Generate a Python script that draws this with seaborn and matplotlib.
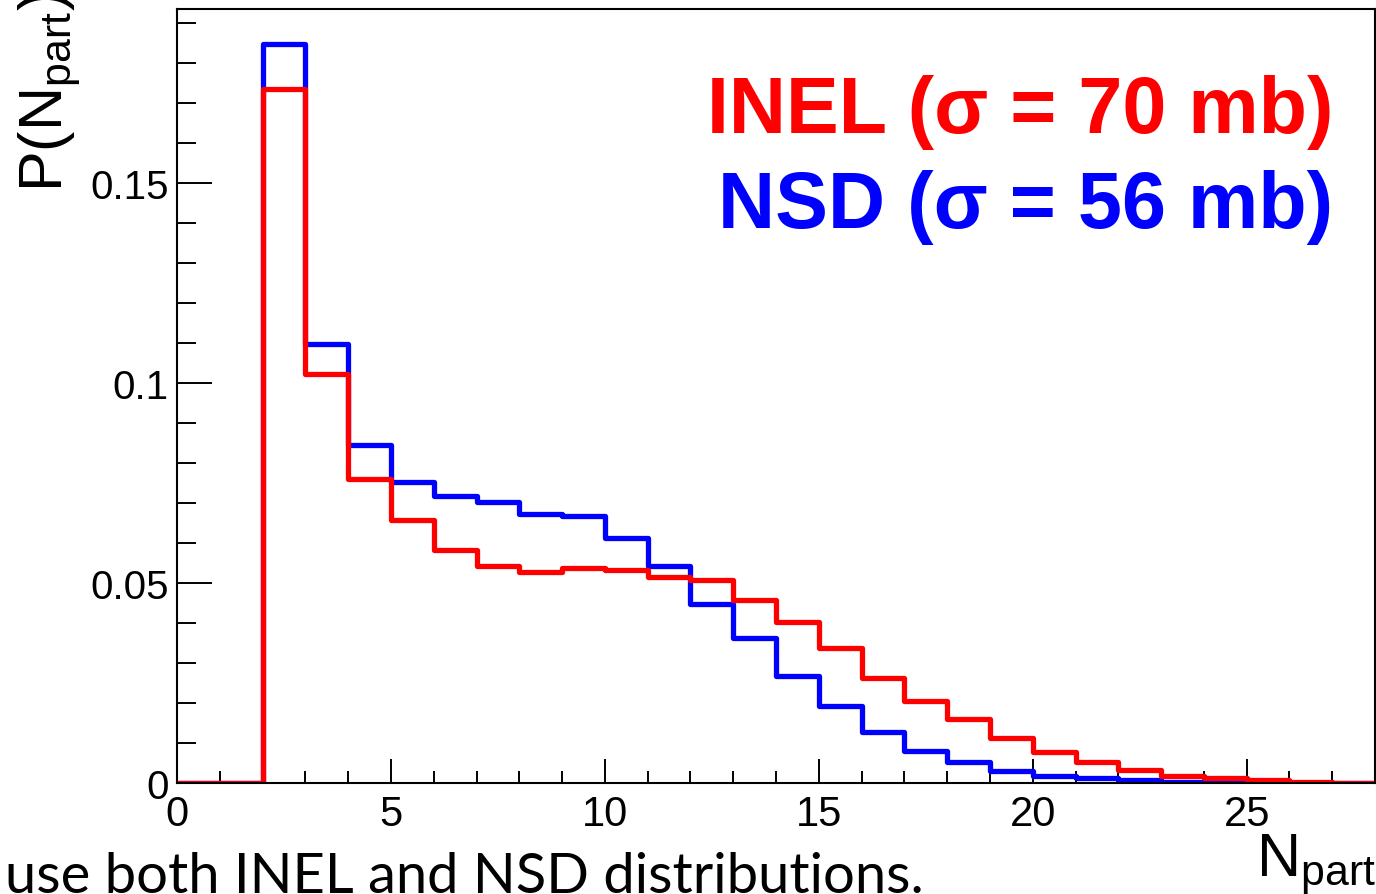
import matplotlib
matplotlib.use("Agg")
import matplotlib.pyplot as plt
import seaborn as sns
import pandas as pd
from matplotlib.ticker import MultipleLocator, FuncFormatter

# ---- data ----
bin_edges = list(range(0, 29))
npart = [i + 0.5 for i in range(28)]
p_inel = [0, 0, 0.1734, 0.1023, 0.0760, 0.0657, 0.0583, 0.0543, 0.0528, 0.0538,
          0.0533, 0.0515, 0.0508, 0.0458, 0.0402, 0.0337, 0.0262, 0.0206, 0.0160,
          0.0112, 0.0077, 0.0052, 0.0033, 0.0018, 0.0013, 0.0007, 0.0002, 0.0001]
p_nsd = [0, 0, 0.1848, 0.1098, 0.0845, 0.0752, 0.0717, 0.0703, 0.0673, 0.0668,
         0.0612, 0.0542, 0.0448, 0.0362, 0.0267, 0.0192, 0.0127, 0.0080, 0.0052,
         0.0030, 0.0017, 0.0012, 0.0007, 0.0002, 0.0001, 0.0001, 0, 0]
x_ticks = [0, 5, 10, 15, 20, 25]
y_ticks = [0, 0.05, 0.1, 0.15]
label_inel = "INEL (σ = 70 mb)"
label_nsd = "NSD (σ = 56 mb)"
caption = "use both INEL and NSD distributions."

df = pd.DataFrame({"npart": npart, "INEL": p_inel, "NSD": p_nsd})

sns.set_style("ticks")
plt.rcParams["font.family"] = ["Liberation Sans", "DejaVu Sans"]
plt.rcParams["mathtext.fontset"] = "custom"
plt.rcParams["mathtext.rm"] = "Liberation Sans"
plt.rcParams["mathtext.it"] = "Liberation Sans"
plt.rcParams["text.color"] = "black"
plt.rcParams["xtick.color"] = "black"
plt.rcParams["ytick.color"] = "black"
plt.rcParams["xtick.labelcolor"] = "black"
plt.rcParams["ytick.labelcolor"] = "black"

W, H = 1376, 895
fig = plt.figure(figsize=(W / 100, H / 100), dpi=100)
ax = fig.add_axes([177 / W, (H - 784) / H, 1198 / W, 774 / H])

sns.histplot(data=df, x="npart", weights="NSD", bins=bin_edges, element="step",
             fill=False, color="#0000ff", linewidth=3.8, ax=ax)
sns.histplot(data=df, x="npart", weights="INEL", bins=bin_edges, element="step",
             fill=False, color="#ff0000", linewidth=3.8, ax=ax)

ax.set_xlim(0, 28)
ax.set_ylim(0, 0.1935)
ax.set_xlabel("")
ax.set_ylabel("")

for s in ax.spines.values():
    s.set_visible(True)
    s.set_linewidth(1.5)
    s.set_color("black")

ax.set_xticks(x_ticks)
ax.set_yticks(y_ticks)
ax.xaxis.set_minor_locator(MultipleLocator(1))
ax.yaxis.set_minor_locator(MultipleLocator(0.01))
ax.yaxis.set_major_formatter(FuncFormatter(lambda v, p: "%g" % v))
ax.tick_params(axis="both", which="both", direction="in", width=1.4,
               color="black", labelcolor="black")
ax.tick_params(axis="y", which="major", length=25, labelsize=29, pad=6)
ax.tick_params(axis="y", which="minor", length=13.5)
ax.tick_params(axis="x", which="major", length=17, labelsize=30, pad=8)
ax.tick_params(axis="x", which="minor", length=9)

ax.text(0.965, 0.868, label_inel, transform=ax.transAxes, ha="right", va="center",
        color="#ff0000", fontsize=57, fontweight="bold")
ax.text(0.965, 0.745, label_nsd, transform=ax.transAxes, ha="right", va="center",
        color="#0000ff", fontsize=57, fontweight="bold")

fig.text(17 / W, (H - 192) / H, r"$\mathrm{P(N_{part})}$", rotation=90,
         ha="left", va="bottom", fontsize=44, color="black")
fig.text(1.0, (H - 876) / H, r"$\mathrm{N_{part}}$", ha="right", va="baseline",
         fontsize=44, color="black")

cap = fig.text(5 / W, (H - 893) / H, caption, ha="left", va="baseline",
               fontsize=44, family=["Lato", "DejaVu Sans"], color="black")
fig.canvas.draw()
bb = cap.get_window_extent()
cap.set_fontsize(44 * 920 / bb.width)

fig.savefig("out.png", dpi=100)
